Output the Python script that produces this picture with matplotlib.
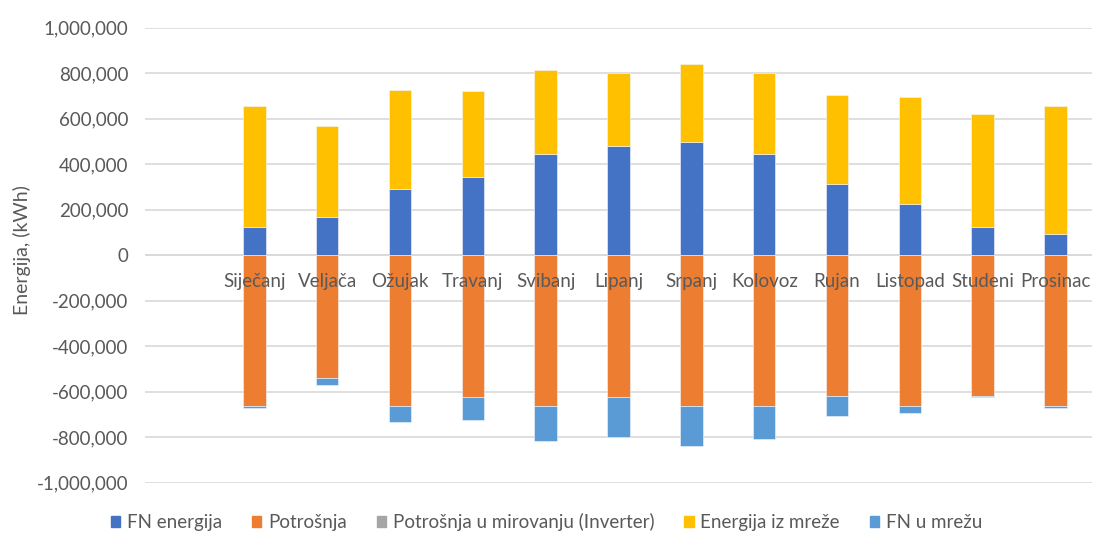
import matplotlib
matplotlib.use("Agg")
import matplotlib.pyplot as plt
from matplotlib.ticker import FuncFormatter
from matplotlib.patches import Patch
import numpy as np

months = ["Siječanj", "Veljača", "Ožujak", "Travanj", "Svibanj", "Lipanj",
          "Srpanj", "Kolovoz", "Rujan", "Listopad", "Studeni", "Prosinac"]
fn_energija = [123000, 170000, 291000, 344000, 444000, 482000,
               498000, 444000, 315000, 223000, 123000, 94000]
iz_mreze = [535000, 396000, 437000, 376000, 368000, 321000,
            343000, 359000, 390000, 473000, 497000, 564000]
potrosnja = [-662000, -539000, -662000, -624000, -662000, -624000,
             -662000, -662000, -617000, -662000, -617000, -662000]
mirovanje = [-1000, -1000, -1000, -1000, -1000, -1000,
             -1000, -1000, -1000, -1000, -1000, -1000]
fn_u_mrezu = [-8000, -31000, -68000, -99000, -152000, -176000,
              -175000, -144000, -90000, -30000, -7000, -8000]

labels = ["FN energija", "Potrošnja", "Potrošnja u mirovanju (Inverter)",
          "Energija iz mreže", "FN u mrežu"]
colors = ["#4472C4", "#ED7D31", "#A5A5A5", "#FFC000", "#5B9BD5"]
txt = "#595959"
plt.rcParams['font.family'] = ['Lato', 'DejaVu Sans']

fig = plt.figure(figsize=(10.93, 5.34), dpi=100)
ax = fig.add_axes([145/1093, 1-482.7/534, (1092-145)/1093, (482.7-27.7)/534])

x = np.arange(1, 13)
w = 0.31
ec = dict(edgecolor="#F4F7FC", linewidth=0.4)
ax.bar(x, fn_energija, w, color=colors[0], zorder=2, **ec)
ax.bar(x, iz_mreze, w, bottom=fn_energija, color=colors[3], zorder=2, **ec)
ax.bar(x, potrosnja, w, color=colors[1], zorder=2, **ec)
neg1 = np.array(potrosnja)
ax.bar(x, mirovanje, w, bottom=neg1, color=colors[2], zorder=2, linewidth=0)
neg2 = neg1 + np.array(mirovanje)
ax.bar(x, fn_u_mrezu, w, bottom=neg2, color=colors[4], zorder=2, **ec)

ax.set_xlim(-0.5, 12.5)
ax.set_ylim(-1000000, 1000000)
ax.set_yticks(np.arange(-1000000, 1000001, 200000))
ax.yaxis.set_major_formatter(FuncFormatter(lambda v, p: f"{int(v):,}"))
ax.tick_params(axis="y", length=0, pad=12, labelsize=13.5, labelcolor=txt)
ax.set_xticks([])
ax.grid(axis="y", color="#D9D9D9", linewidth=1.2, zorder=0)
for s in ax.spines.values():
    s.set_visible(False)
ax.axhline(0, color="#D9D9D9", linewidth=1.2, zorder=1)

for xi, m in zip(x, months):
    ax.annotate(m, (xi, 0), xytext=(0, -19), textcoords="offset points",
                ha="center", va="center", fontsize=13.5, color=txt, zorder=3)

fig.text(22/1093, 1-250/534, "Energija, (kWh)", rotation=90, ha="center",
         va="center", fontsize=14, color=txt)

handles = [Patch(color=c) for c in colors]
leg = fig.legend(handles, labels, loc="center", bbox_to_anchor=(0.5, 1-522/534),
                 ncol=5, frameon=False, fontsize=13.5, handlelength=0.5,
                 handleheight=0.5, handletextpad=0.35, columnspacing=1.6)
for t in leg.get_texts():
    t.set_color(txt)

fig.savefig("out.png", dpi=100)
